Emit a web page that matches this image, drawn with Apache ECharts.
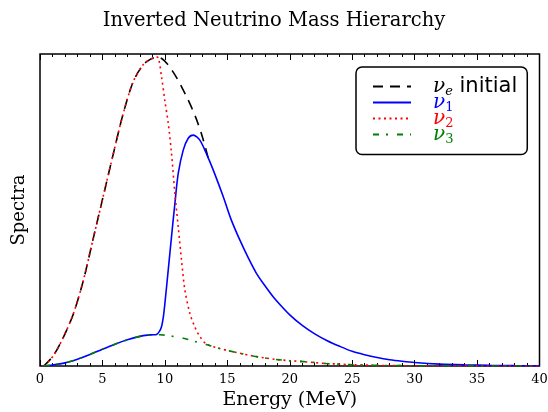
<!DOCTYPE html>
<html>
<head>
<meta charset="utf-8">
<script src="https://cdn.jsdelivr.net/npm/echarts@6/dist/echarts.min.js"></script>
<style>html,body{margin:0;padding:0;background:#fff}#c{width:548px;height:412px}</style>
</head>
<body>
<div id="c"></div>
<script>
// ---- data ----
const xTicks = [0, 5, 10, 15, 20, 25, 30, 35, 40];

const initE = [0.3, 1.07, 1.87, 2.67, 3.47, 4.27, 5.07, 5.87, 6.67, 7.47, 8.27, 8.8, 9.07, 9.4, 9.8, 10.2, 10.6, 11.0, 11.4, 11.8, 12.2, 12.6, 13.0, 13.47];
const initV = [0, 0.033, 0.092, 0.167, 0.274, 0.41, 0.545, 0.68, 0.81, 0.912, 0.966, 0.982, 0.987, 0.99, 0.984, 0.968, 0.946, 0.92, 0.89, 0.858, 0.823, 0.783, 0.735, 0.667];

const nu1E = [0.3, 1, 2, 3, 4, 5, 6, 7, 8, 8.6, 9.07, 9.33, 9.55, 9.73, 9.87, 10.0, 10.27, 10.53, 10.8, 11.07, 11.47, 11.87, 12.27, 12.8, 13.47, 14.0, 14.67, 15.3, 16.0, 16.7, 17.33, 18.0, 18.67, 19.3, 20, 21, 22, 23, 24, 25, 26, 27, 28, 29, 30, 32, 34, 36, 38, 40];
const nu1V = [0, 0.003, 0.01, 0.022, 0.037, 0.054, 0.07, 0.084, 0.095, 0.099, 0.1, 0.101, 0.11, 0.126, 0.155, 0.2, 0.308, 0.414, 0.52, 0.617, 0.692, 0.73, 0.74, 0.724, 0.667, 0.615, 0.543, 0.47, 0.404, 0.345, 0.297, 0.258, 0.222, 0.193, 0.164, 0.13, 0.103, 0.081, 0.063, 0.047, 0.036, 0.027, 0.02, 0.015, 0.011, 0.006, 0.0035, 0.002, 0.0012, 0.0007];

const nu2E = [0.3, 1.07, 1.87, 2.67, 3.47, 4.27, 5.07, 5.87, 6.67, 7.47, 8.27, 8.8, 9.07, 9.4, 9.73, 10.0, 10.27, 10.53, 10.8, 11.07, 11.33, 11.6, 12.0, 12.4, 12.8, 13.3, 14.2, 15.2, 16.1, 17.07, 18.0, 18.9, 20.0, 21.1, 22.0, 22.9, 24.0, 25.0, 26.5, 28.0, 30.0, 32.0, 36.0, 40.0];
const nu2V = [0, 0.033, 0.092, 0.167, 0.274, 0.41, 0.545, 0.68, 0.81, 0.912, 0.966, 0.982, 0.987, 0.99, 0.927, 0.85, 0.778, 0.682, 0.553, 0.446, 0.34, 0.244, 0.169, 0.125, 0.095, 0.071, 0.058, 0.048, 0.04, 0.032, 0.026, 0.021, 0.017, 0.014, 0.011, 0.008, 0.006, 0.004, 0.0025, 0.0015, 0.0008, 0.0005, 0.0002, 0];

const nu3E = [0.3, 1, 2, 3, 4, 5, 6, 7, 8, 8.6, 9.07, 9.6, 10.5, 11.47, 12.3, 13.3, 14.2, 15.2, 16.1, 17.07, 18.0, 18.9, 20.0, 21.1, 22.0, 22.9, 24.0, 25.0, 26.5, 28.0, 30.0, 32.0, 36.0, 40.0];
const nu3V = [0, 0.003, 0.01, 0.022, 0.037, 0.054, 0.07, 0.084, 0.095, 0.099, 0.1, 0.1, 0.096, 0.089, 0.08, 0.069, 0.058, 0.048, 0.04, 0.032, 0.026, 0.021, 0.017, 0.014, 0.011, 0.008, 0.006, 0.004, 0.0025, 0.0015, 0.0008, 0.0005, 0.0002, 0];

const seriesNames = ['nue', 'nu1', 'nu2', 'nu3'];
const seriesColors = ['#000000', '#0000ff', '#ff0000', '#008000'];

// ---- chart ----
const pairs = (xs, ys) => xs.map((x, i) => [x, ys[i]]);
const serif = 'DejaVu Serif';
const chart = echarts.init(document.getElementById('c'), null, {renderer: 'canvas'});

const subStyle = (c, it) => ({fontFamily: serif, fontStyle: it ? 'italic' : 'normal', fontSize: 13, lineHeight: 14, verticalAlign: 'bottom', color: c});
const nuStyle = c => ({fontFamily: serif, fontStyle: 'italic', fontSize: 20, lineHeight: 24, verticalAlign: 'middle', color: c});

const lineTypes = [[10, 7], 'solid', [2, 3.5], [6, 7, 2, 9]];

const xAxisCommon = {
  type: 'value', min: 0, max: 40, interval: 5,
  axisLine: {show: false},
  axisTick: {show: true, inside: true, length: 6, lineStyle: {color: '#000', width: 1}},
  minorTick: {show: true, splitNumber: 5, length: 3, lineStyle: {color: '#000', width: 1}},
  splitLine: {show: false}, minorSplitLine: {show: false}
};

chart.setOption({
  animation: false,
  backgroundColor: '#fff',
  title: {
    text: 'Inverted Neutrino Mass Hierarchy',
    left: 'center', top: 6,
    textStyle: {fontFamily: serif, fontSize: 19.5, fontWeight: 'normal', color: '#000'}
  },
  grid: {left: 40, right: 8.5, top: 54, bottom: 46, containLabel: false, outerBoundsMode: 'none',
    show: true, borderColor: '#000', borderWidth: 1.5, backgroundColor: 'transparent'},
  legend: {
    orient: 'vertical', left: 356, top: 67,
    padding: [9, 10, 8, 16], itemGap: -6, itemWidth: 38, itemHeight: 14,
    borderColor: '#000', borderWidth: 1.5, borderRadius: 6, backgroundColor: '#fff',
    itemStyle: {opacity: 0, borderWidth: 0},
    data: seriesNames,
    formatter: function (name) {
      if (name === 'nue') return '{sp| }{nuK|ν}{subK|e}{txt| initial}';
      if (name === 'nu1') return '{sp| }{nuB|ν}{subB|1}';
      if (name === 'nu2') return '{sp| }{nuR|ν}{subR|2}';
      return '{sp| }{nuG|ν}{subG|3}';
    },
    textStyle: {
      rich: {
        sp: {width: 17, fontSize: 10},
        nuK: nuStyle('#000'), subK: subStyle('#000', true),
        txt: {fontFamily: 'DejaVu Sans', fontSize: 21, lineHeight: 24, verticalAlign: 'middle', color: '#000'},
        nuB: nuStyle('#0000ff'), subB: subStyle('#0000ff', false),
        nuR: nuStyle('#ff0000'), subR: subStyle('#ff0000', false),
        nuG: nuStyle('#008000'), subG: subStyle('#008000', false)
      }
    }
  },
  xAxis: [
    Object.assign({}, xAxisCommon, {
      position: 'bottom',
      name: 'Energy (MeV)', nameLocation: 'middle', nameGap: 24,
      nameTextStyle: {fontFamily: serif, fontSize: 19, color: '#000'},
      axisLabel: {show: true, margin: 7, fontFamily: serif, fontSize: 13, color: '#000',
        formatter: v => (xTicks.indexOf(v) >= 0 ? String(v) : '')}
    }),
    Object.assign({}, xAxisCommon, {position: 'top', axisLabel: {show: false}})
  ],
  yAxis: {
    type: 'value', min: 0, max: 1,
    name: 'Spectra', nameLocation: 'middle', nameGap: 12,
    nameTextStyle: {fontFamily: serif, fontSize: 18, color: '#000'},
    axisLine: {show: false}, axisTick: {show: false}, axisLabel: {show: false}, splitLine: {show: false}
  },
  series: [
    {name: 'nue', data: pairs(initE, initV)},
    {name: 'nu1', data: pairs(nu1E, nu1V)},
    {name: 'nu2', data: pairs(nu2E, nu2V)},
    {name: 'nu3', data: pairs(nu3E, nu3V)}
  ].map((s, i) => Object.assign(s, {
    type: 'line', xAxisIndex: 0, symbol: 'none', showSymbol: false, smooth: 0.3,
    color: seriesColors[i],
    lineStyle: {color: seriesColors[i], width: 1.6, type: lineTypes[i]},
    emphasis: {disabled: true}
  }))
});
</script>
</body>
</html>
